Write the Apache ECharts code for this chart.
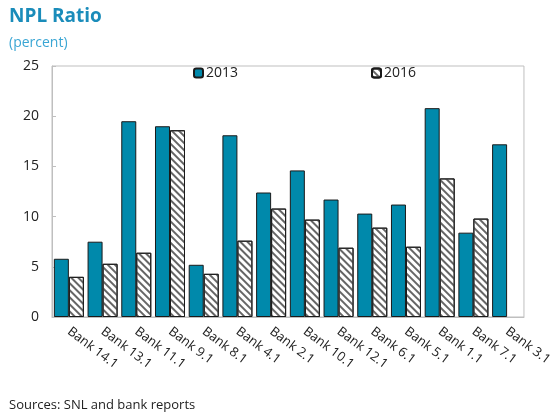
<!DOCTYPE html>
<html>
<head>
<meta charset="utf-8">
<script src="https://cdn.jsdelivr.net/npm/echarts@6/dist/echarts.min.js"></script>
<style>
    html, body { margin: 0; padding: 0; background: #fff; }
    #chart { width: 555px; height: 413px; }
</style>
</head>
<body>
<div id="chart"></div>
<script>
// 银行名称
var banks = ['Bank 14.1', 'Bank 13.1', 'Bank 11.1', 'Bank 9.1', 'Bank 8.1', 'Bank 4.1', 'Bank 2.1',
    'Bank 10.1', 'Bank 12.1', 'Bank 6.1', 'Bank 5.1', 'Bank 1.1', 'Bank 7.1', 'Bank 3.1'];
// NPL ratio 2013
var npl2013 = [5.8, 7.5, 19.5, 19.0, 5.2, 18.1, 12.4, 14.6, 11.7, 10.3, 11.2, 20.8, 8.4, 17.2];
// NPL ratio 2016 (Bank 3.1 无数据)
var npl2016 = [4.0, 5.3, 6.4, 18.6, 4.3, 7.6, 10.8, 9.7, 6.9, 8.9, 7.0, 13.8, 9.8, null];
var yTicks = [0, 25, 5];

var fontFamily = '"Open Sans", "DejaVu Sans", sans-serif';
var chart = echarts.init(document.getElementById('chart'));

var option = {
    animation: false,
    title: [{
        text: 'NPL Ratio',
        left: 9,
        top: 7,
        padding: 0,
        textStyle: { fontFamily: fontFamily, fontSize: 19, fontWeight: 'bold', color: '#1a8cba' }
    }, {
        text: '(percent)',
        left: 9,
        top: 36,
        padding: 0,
        textStyle: { fontFamily: fontFamily, fontSize: 14, fontWeight: 'normal', color: '#3aa6d4' }
    }, {
        text: 'Sources: SNL and bank reports',
        left: 9,
        top: 399,
        padding: 0,
        textStyle: { fontFamily: fontFamily, fontSize: 13, fontWeight: 'normal', color: '#222' }
    }],
    legend: [{
        data: ['2013'],
        left: 188,
        top: 61,
        itemWidth: 9,
        itemHeight: 9,
        textStyle: { fontFamily: fontFamily, fontSize: 14, color: '#222', padding: [0, 0, 0, -2] }
    }, {
        data: ['2016'],
        left: 366,
        top: 61,
        itemWidth: 9,
        itemHeight: 9,
        textStyle: { fontFamily: fontFamily, fontSize: 14, color: '#222', padding: [0, 0, 0, -2] }
    }],
    grid: {
        left: 52,
        right: 31,
        top: 66,
        bottom: 96,
        show: true,
        borderColor: '#bfbfbf',
        borderWidth: 1
    },
    xAxis: {
        type: 'category',
        data: banks,
        axisLine: { lineStyle: { color: '#bfbfbf' } },
        axisTick: { show: false },
        axisLabel: {
            rotate: -37,
            interval: 0,
            margin: 13,
            fontFamily: fontFamily,
            fontSize: 13,
            color: '#222'
        }
    },
    yAxis: {
        type: 'value',
        min: yTicks[0],
        max: yTicks[1],
        interval: yTicks[2],
        splitLine: { show: false },
        axisLine: { show: true, lineStyle: { color: '#bfbfbf' } },
        axisTick: { show: true, inside: true, length: 4, lineStyle: { color: '#bfbfbf' } },
        axisLabel: { fontFamily: fontFamily, fontSize: 14, color: '#222', margin: 13 }
    },
    series: [{
        name: '2013',
        type: 'bar',
        data: npl2013,
        barGap: '0%',
        barCategoryGap: '11%',
        itemStyle: { color: '#0089ab', borderColor: '#1a1a1a', borderWidth: 1 }
    }, {
        name: '2016',
        type: 'bar',
        data: npl2016,
        itemStyle: {
            color: '#ffffff',
            borderColor: '#1a1a1a',
            borderWidth: 1,
            decal: {
                symbol: 'rect',
                color: '#666',
                dashArrayX: [1, 0],
                dashArrayY: [1.3, 2.4],
                rotation: Math.PI / 4
            }
        }
    }]
};

chart.setOption(option);
</script>
</body>
</html>
